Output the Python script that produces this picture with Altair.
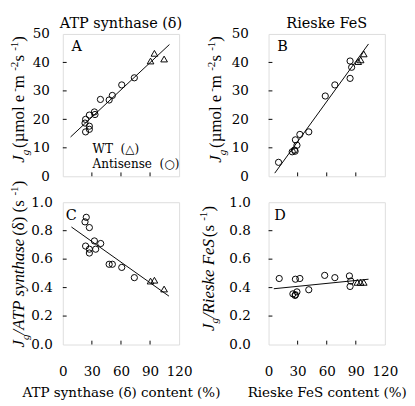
import altair as alt
import pandas as pd

FONT_H = "DejaVu Serif"       # horizontal texts
FONT_R = "Liberation Serif"   # rotated axis titles
BLACK = "black"

# ---------------- data ----------------
# Panel A: ATP synthase (delta) content (%) vs Jg (umol e- m-2 s-1)
a_anti_x = [23.5, 27.4, 27.4, 22.9, 23.5, 27.4, 32.6, 33.2, 38.8, 47.8, 51.1, 60.8, 73.8]
a_anti_y = [15.6, 16.5, 17.6, 18.7, 20.0, 21.5, 22.6, 21.7, 27.0, 26.8, 28.4, 32.1, 34.6]
a_wt_x = [90.5, 94.5, 104.5]
a_wt_y = [40.5, 43.2, 41.2]
a_fit_x = [8.0, 110.0]
a_fit_y = [13.8, 46.3]

# Panel B: Rieske FeS content (%) vs Jg
b_anti_x = [10.3, 24.4, 26.7, 27.4, 29.3, 27.7, 32.3, 41.5, 58.5, 68.4, 84.1, 85.7, 84.1]
b_anti_y = [4.9, 8.6, 9.2, 8.8, 10.9, 12.8, 14.7, 15.6, 28.2, 32.1, 40.5, 38.3, 34.4]
b_wt_x = [92.5, 95.0, 98.2]
b_wt_y = [40.3, 40.9, 43.0]
b_fit_x = [6.4, 103.1]
b_fit_y = [1.1, 46.5]

# Panel C: ATP synthase (delta) content (%) vs Jg/ATP synthase (s-1)
c_anti_x = [24.2, 22.9, 27.4, 32.6, 39.1, 23.5, 27.4, 33.9, 27.4, 47.8, 51.1, 60.8, 73.8]
c_anti_y = [0.894, 0.862, 0.822, 0.728, 0.710, 0.692, 0.670, 0.670, 0.643, 0.564, 0.564, 0.542, 0.470]
c_wt_x = [90.5, 94.5, 104.5]
c_wt_y = [0.446, 0.452, 0.390]
c_fit_x = [8.9, 109.5]
c_fit_y = [0.826, 0.340]

# Panel D: Rieske FeS content (%) vs Jg/Rieske FeS (s-1)
d_anti_x = [11.0, 27.7, 32.3, 57.9, 68.4, 83.4, 84.8, 84.1, 41.5, 29.3, 25.1, 27.4, 27.7]
d_anti_y = [0.464, 0.459, 0.464, 0.486, 0.470, 0.482, 0.446, 0.408, 0.385, 0.370, 0.356, 0.345, 0.350]
d_wt_x = [91.6, 94.9, 98.2]
d_wt_y = [0.437, 0.437, 0.437]
d_fit_x = [5.4, 103.1]
d_fit_y = [0.392, 0.459]

x_ticks = [0, 30, 60, 90, 120]
x_inner_ticks = [30, 60, 90]
jg_ticks = [0, 10, 20, 30, 40, 50]
jg_inner_ticks = [10, 20, 30, 40]
ratio_ticks = [0.0, 0.2, 0.4, 0.6, 0.8, 1.0]
ratio_inner_ticks = [0.2, 0.4, 0.6, 0.8]

# ---------------- layout / style ----------------
W, H = 121, 148
LBL = 14        # tick labels
TOPT = 15       # column titles
HT = 14         # x-axis titles
RT = 17.5       # rotated titles
SUB = 11.5
NB = "\u00a0"

ROMAN = {' ': 250, NB: 250, '(': 333, ')': 333, '/': 278, '-': 333, '%': 833,
         'A': 722, 'T': 611, 'P': 556, 'R': 667, 'F': 556, 'S': 556, 'J': 389,
         'a': 444, 'c': 444, 'e': 444, 'g': 500, 'h': 500, 'i': 278, 'k': 500,
         'l': 278, 'm': 778, 'n': 500, 'o': 500, 's': 389, 't': 278, 'y': 500,
         '\u00b5': 500, '\u03b4': 500}
ITALIC = {' ': 250, NB: 250, '/': 278, 'A': 611, 'T': 556, 'P': 611, 'R': 611,
          'F': 611, 'S': 500, 'J': 444, 'a': 500, 'e': 444, 'g': 500, 'h': 500,
          'i': 278, 'k': 444, 'n': 500, 's': 389, 't': 278, 'y': 444}


def text_width(s, size, italic):
    table = ITALIC if italic else ROMAN
    return sum(table.get(ch, 500) for ch in s) * size / 1000.0


def ytitle_layers(pieces, x0, y0):
    layers = []
    pos = 0.0
    prev_italic = False
    for txt, size, italic, dy in pieces:
        if prev_italic and not italic:
            pos += 2.0   # italic overhang correction
        layers.append(
            alt.Chart(pd.DataFrame({"t": [txt]})).mark_text(
                font=FONT_R, fontSize=size, fontStyle="italic" if italic else "normal",
                angle=270, align="left", baseline="alphabetic", dx=pos, dy=dy,
                color=BLACK,
            ).encode(text="t:N", x=alt.value(x0), y=alt.value(y0))
        )
        pos += text_width(txt, size, italic)
        prev_italic = italic
    return layers


def label_layer(txt, x, y, size, align="left"):
    return alt.Chart(pd.DataFrame({"t": [txt]})).mark_text(
        font=FONT_H, fontSize=size, align=align, baseline="alphabetic", color=BLACK
    ).encode(text="t:N", x=alt.value(x), y=alt.value(y))


def panel(ax, ay, wx, wy, fx, fy, ymax, yvals, yfmt, yinner, letter, letter_x,
          title_pieces, title_x, title_y, label_pad, top_title=None, x_title=None,
          legend=False):
    xscale = alt.Scale(domain=[0, 120], nice=False, zero=False)
    yscale = alt.Scale(domain=[0, ymax], nice=False, zero=False)
    yaxis = alt.Axis(values=yvals, format=yfmt, ticks=False, domain=False, grid=False,
                     labelFont=FONT_H, labelFontSize=LBL, labelColor=BLACK,
                     labelPadding=label_pad, labelOverlap=False, title=None)
    if x_title:
        xaxis = alt.Axis(values=x_ticks, format="d", ticks=False, domain=False, grid=False,
                         labelFont=FONT_H, labelFontSize=LBL, labelColor=BLACK,
                         labelPadding=21, labelFlush=False, labelOverlap=False,
                         title=x_title, titleFont=FONT_H, titleFontSize=HT,
                         titleFontWeight="normal", titleColor=BLACK, titlePadding=8)
    else:
        xaxis = None
    bx = alt.X("x:Q", scale=xscale, axis=xaxis)
    by = alt.Y("y:Q", scale=yscale, axis=yaxis)

    anti = pd.DataFrame({"x": ax, "y": ay})
    wt = pd.DataFrame({"x": wx, "y": wy})
    fit = pd.DataFrame({"x": fx, "y": fy})

    layers = [
        alt.Chart(anti).mark_point(shape="circle", filled=False, color=BLACK,
                                   size=42, strokeWidth=1, opacity=1).encode(x=bx, y=by),
        alt.Chart(wt).mark_point(shape="triangle-up", filled=False, color=BLACK,
                                 size=48, strokeWidth=1, opacity=1).encode(x=bx, y=by),
        alt.Chart(fit).mark_line(color=BLACK, strokeWidth=1).encode(x=bx, y=by),
        alt.Chart(pd.DataFrame({"y": yinner})).mark_rule(color=BLACK, strokeWidth=1).encode(
            y=by, x=alt.value(0), x2=alt.value(4)),
        alt.Chart(pd.DataFrame({"x": x_inner_ticks})).mark_rule(color=BLACK, strokeWidth=1).encode(
            x=bx, y=alt.value(H), y2=alt.value(H - 4)),
        label_layer(letter, letter_x, 18, 15),
    ]
    if legend:
        layers.append(label_layer("WT" + NB + NB + "(\u25b3)", 31, 124, 12.5))
        layers.append(label_layer("Antisense" + NB + NB + "(\u25cb)", 31, 139, 12.5))
    if top_title:
        layers.append(label_layer(top_title, W / 2, -6, TOPT, align="center"))
    layers += ytitle_layers(title_pieces, title_x, title_y)

    return alt.layer(*layers).properties(width=W, height=H)


jg_title = [("J", RT, True, 0), ("g", SUB, True, 4.5), (NB + "(\u00b5mol e", RT, False, 0),
            ("-", SUB, False, -7), (NB + "m", RT, False, 0), ("-2", SUB, False, -7),
            (NB + "s", RT, False, 0), ("-1", SUB, False, -7), (")", RT, False, 0)]
atp_title = [("J", RT, True, 0), ("g", SUB, True, 4.5), ("/ATP synthase", RT, True, 0),
             (NB + "(\u03b4) (s", RT, False, 0), ("-1", SUB, False, -7), (")", RT, False, 0)]
fes_title = [("J", RT, True, 0), ("g", SUB, True, 4.5), ("/Rieske FeS", RT, True, 0),
             (NB + "(s", RT, False, 0), ("-1", SUB, False, -7), (")", RT, False, 0)]

pA = panel(a_anti_x, a_anti_y, a_wt_x, a_wt_y, a_fit_x, a_fit_y, 50, jg_ticks, "d",
           jg_inner_ticks, "A", 9, jg_title, -40, 134, 14,
           top_title="ATP synthase (\u03b4)", legend=True)
pB = panel(b_anti_x, b_anti_y, b_wt_x, b_wt_y, b_fit_x, b_fit_y, 50, jg_ticks, "d",
           jg_inner_ticks, "B", 9, jg_title, -49, 134, 21,
           top_title="Rieske FeS")
pC = panel(c_anti_x, c_anti_y, c_wt_x, c_wt_y, c_fit_x, c_fit_y, 1.0, ratio_ticks, ".1f",
           ratio_inner_ticks, "C", 3, atp_title, -40, 151, 11,
           x_title="ATP synthase (\u03b4) content (%)")
pD = panel(d_anti_x, d_anti_y, d_wt_x, d_wt_y, d_fit_x, d_fit_y, 1.0, ratio_ticks, ".1f",
           ratio_inner_ticks, "D", 6, fes_title, -57, 134, 19,
           x_title="Rieske FeS content (%)")

chart = alt.concat(pA, pB, pC, pD, columns=2, spacing={"row": 27, "column": 93},
                   bounds="flush").properties(
    padding={"left": 0, "top": 0, "right": 0, "bottom": 0}
).configure_view(stroke=BLACK, strokeWidth=1).configure(background="white")

chart.save("out.html", embed_options={"renderer": "svg", "actions": False})
